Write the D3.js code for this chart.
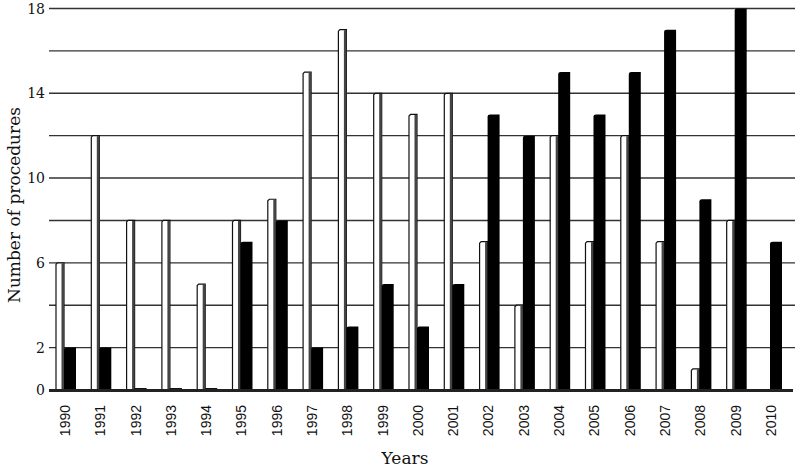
<!DOCTYPE html>
<html>
<head>
<meta charset="utf-8">
<script src="https://cdn.jsdelivr.net/npm/d3@7"></script>
<style>
  body { margin: 0; background: #fff; }
  .grid line { stroke: #333; stroke-width: 1.4; }
  .ytick text { font-family: "DejaVu Serif", serif; font-size: 14px; fill: #111; }
  .xlab { font-family: "Liberation Sans", Arial, sans-serif; font-size: 14px; fill: #111; }
  .title { font-family: "DejaVu Serif", serif; font-size: 17px; fill: #111; }
</style>
</head>
<body>
<script>
// chart data
const years = ["1990","1991","1992","1993","1994","1995","1996","1997","1998","1999","2000",
               "2001","2002","2003","2004","2005","2006","2007","2008","2009","2010"];
const whiteValues = [6, 12, 8, 8, 5, 8, 9, 15, 17, 14, 13, 14, 7, 4, 12, 7, 12, 7, 1, 8, 0];
const blackValues = [2, 2, 0, 0, 0, 7, 8, 2, 3, 5, 3, 5, 13, 12, 15, 13, 15, 17, 9, 18, 7];
const yTickLabels = [0, 2, 6, 10, 14, 18];
const gridValues = [2, 4, 6, 8, 10, 12, 14, 16, 18];

const width = 800, height = 469;
const svg = d3.select("body").append("svg")
    .attr("width", width)
    .attr("height", height);

const y = d3.scaleLinear().domain([0, 18]).range([390, 8.5]);
const x = d3.scaleBand().domain(years).range([56, 782]).paddingInner(0.433).paddingOuter(0).align(0);
const whiteW = 8, blackW = 12;

// horizontal grid lines
svg.append("g").attr("class", "grid")
    .selectAll("line")
    .data(gridValues)
    .enter().append("line")
    .attr("x1", 49).attr("x2", 795)
    .attr("y1", d => y(d)).attr("y2", d => y(d));

// y tick labels
svg.append("g").attr("class", "ytick")
    .selectAll("text")
    .data(yTickLabels)
    .enter().append("text")
    .attr("x", 45)
    .attr("y", d => y(d) + 5)
    .attr("text-anchor", "end")
    .text(d => d);

// white bars (with dark side shading)
const wg = svg.append("g");
years.forEach((yr, i) => {
    const v = whiteValues[i];
    if (v <= 0) return;
    const x0 = x(yr), top = y(v), base = y(0);
    wg.append("path")
        .attr("d", `M${x0},${base} L${x0},${top + 1.5} L${x0 + 1.5},${top} L${x0 + whiteW},${top} L${x0 + whiteW},${base} Z`)
        .attr("fill", "#fff").attr("stroke", "#111").attr("stroke-width", 1.2);
    wg.append("rect")
        .attr("x", x0 + whiteW - 2.5).attr("y", top + 0.5)
        .attr("width", 2.5).attr("height", base - top)
        .attr("fill", "#444");
});

// black bars
const bg = svg.append("g");
years.forEach((yr, i) => {
    const v = blackValues[i];
    const x0 = x(yr) + whiteW, top = y(v), base = y(0);
    if (v <= 0) {
        bg.append("rect").attr("x", x0).attr("y", base - 2).attr("width", blackW).attr("height", 2).attr("fill", "#111");
        return;
    }
    bg.append("path")
        .attr("d", `M${x0},${base} L${x0},${top + 2} Q${x0},${top} ${x0 + 2.5},${top} L${x0 + blackW},${top} L${x0 + blackW},${base} Z`)
        .attr("fill", "#000");
});

// baseline
svg.append("line")
    .attr("x1", 49).attr("x2", 793)
    .attr("y1", y(0) + 0.5).attr("y2", y(0) + 0.5)
    .attr("stroke", "#222").attr("stroke-width", 3);

// year labels
svg.append("g")
    .selectAll("text")
    .data(years)
    .enter().append("text")
    .attr("class", "xlab")
    .attr("transform", d => `translate(${x(d) + 9},405) rotate(-90)`)
    .attr("text-anchor", "end")
    .attr("dy", "0.35em")
    .text(d => d);

// axis titles
svg.append("text").attr("class", "title")
    .attr("x", 405).attr("y", 464)
    .attr("text-anchor", "middle")
    .text("Years");

svg.append("text").attr("class", "title")
    .attr("transform", "translate(20,205) rotate(-90)")
    .attr("text-anchor", "middle")
    .text("Number of procedures");
</script>
</body>
</html>
